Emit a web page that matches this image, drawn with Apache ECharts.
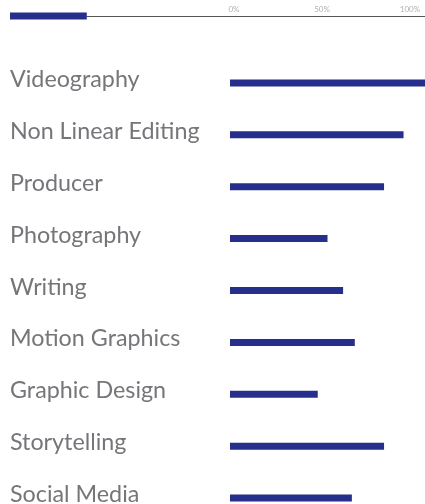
<!DOCTYPE html>
<html>
<head>
<meta charset="utf-8">
<script src="https://cdn.jsdelivr.net/npm/echarts@6/dist/echarts.min.js"></script>
<style>
html,body{margin:0;padding:0;background:#fff;overflow:hidden;}
#c{width:425px;height:540px;}
</style>
</head>
<body>
<div id="c"></div>
<script>
const categories = ["Videography","Non Linear Editing","Producer","Photography","Writing","Motion Graphics","Graphic Design","Storytelling","Social Media"];
const values = [100, 89, 79, 50, 58, 64, 45, 79, 62.5];
const topCategory = ["Top"];
const topValues = [18.5];
const scaleTicks = [0, 50, 100];

const barColor = "#262f8c";
const chart = echarts.init(document.getElementById('c'), null, {renderer:'canvas'});
chart.setOption({
  animation: false,
  backgroundColor: '#fff',
  grid: [
    {left: 10, right: 0, top: 12.5, height: 7},
    {left: 87, right: 0, top: 16, height: 0.01},
    {left: 234, right: 15, top: 16, height: 0.01},
    {left: 230, right: 0, top: 57, height: 467}
  ],
  xAxis: [
    {gridIndex: 0, type: 'value', min: 0, max: 100, show: false},
    {gridIndex: 1, type: 'value', min: 0, max: 100, axisLine: {show: true, lineStyle: {color: '#555', width: 1}}, axisTick: {show: false}, axisLabel: {show: false}, splitLine: {show: false}},
    {gridIndex: 2, type: 'value', position: 'top', min: scaleTicks[0], max: scaleTicks[scaleTicks.length-1], interval: 50,
      axisLine: {show: false}, axisTick: {show: false}, splitLine: {show: false},
      axisLabel: {show: true, formatter: '{value}%', fontSize: 8, color: '#b0b0b0', margin: 3, fontFamily: 'Lato'}},
    {gridIndex: 3, type: 'value', min: 0, max: 100, show: false}
  ],
  yAxis: [
    {gridIndex: 0, type: 'category', data: topCategory, show: false},
    {gridIndex: 1, type: 'category', data: [''], show: false},
    {gridIndex: 2, type: 'category', data: [''], show: false},
    {gridIndex: 3, type: 'category', data: categories, inverse: true,
      axisLine: {show: false}, axisTick: {show: false}, splitLine: {show: false},
      axisLabel: {show: true, align: 'left', verticalAlign: 'bottom', lineHeight: 7, margin: 220, fontSize: 23.3, color: '#76767a', fontFamily: 'Lato'}}
  ],
  series: [
    {type: 'bar', xAxisIndex: 0, yAxisIndex: 0, data: topValues, barWidth: 7, itemStyle: {color: barColor}},
    {type: 'bar', xAxisIndex: 3, yAxisIndex: 3, data: values, barWidth: 7, itemStyle: {color: barColor}}
  ]
});
</script>
</body>
</html>
